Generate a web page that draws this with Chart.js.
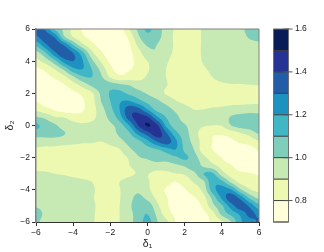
<!DOCTYPE html>
<html lang="en">
<head>
<meta charset="UTF-8">
<title>Contour</title>
<script src="https://cdn.jsdelivr.net/npm/chart.js"></script>
<style>
    html, body { margin: 0; padding: 0; background: #fff; }
    canvas { display: block; }
</style>
</head>
<body>
<canvas id="grafico" width="324" height="252"></canvas>
<script>
const d1 = [-6,-5.5,-5,-4.5,-4,-3.5,-3,-2.5,-2,-1.5,-1,-0.5,0,0.5,1,1.5,2,2.5,3,3.5,4,4.5,5,5.5,6];
const d2 = [6,5.5,5,4.5,4,3.5,3,2.5,2,1.5,1,0.5,0,-0.5,-1,-1.5,-2,-2.5,-3,-3.5,-4,-4.5,-5,-5.5,-6];

// values, one row per d2 (top to bottom)
const z = [
[1.35,1.29,1.09,.98,.87,.79,.74,.72,.72,.75,.89,1.02,1.12,1.05,.96,.89,.86,.87,.91,.93,.94,.95,.98,1.03,1.06],
[1.28,1.36,1.29,1.02,.90,.82,.77,.73,.72,.74,.82,.98,1.07,1.03,.96,.88,.85,.86,.91,.93,.94,.95,.97,1.01,1.03],
[1.12,1.27,1.38,1.29,1.10,.93,.83,.76,.72,.73,.785,.92,1.01,1.0,.94,.89,.86,.87,.91,.94,.95,.95,.96,.97,.98],
[.96,1.08,1.27,1.38,1.30,1.14,.93,.82,.74,.73,.77,.86,.96,.99,.93,.885,.86,.87,.91,.94,.95,.95,.96,.96,.97],
[.87,.94,1.06,1.24,1.30,1.21,1.03,.89,.78,.73,.77,.83,.90,.94,.91,.87,.86,.87,.905,.93,.95,.95,.96,.96,.96],
[.78,.82,.90,1.02,1.17,1.20,1.10,.97,.83,.76,.79,.83,.89,.93,.90,.86,.85,.86,.89,.915,.94,.95,.95,.96,.96],
[.73,.77,.81,.87,.98,1.08,1.10,1.02,.89,.83,.85,.87,.91,.93,.90,.87,.86,.865,.875,.90,.93,.95,.95,.96,.96],
[.72,.74,.76,.79,.85,.93,1.02,1.07,1.06,1.03,1.0,.95,.93,.93,.905,.87,.85,.85,.86,.87,.88,.89,.89,.895,.90],
[.74,.75,.75,.76,.78,.82,.88,1.02,1.11,1.13,1.08,1.04,.99,.95,.89,.86,.84,.83,.83,.84,.85,.86,.86,.86,.87],
[.80,.76,.74,.74,.75,.79,.86,1.0,1.10,1.19,1.21,1.14,1.07,1.02,.97,.91,.88,.87,.86,.86,.86,.87,.87,.875,.88],
[.875,.83,.79,.75,.75,.79,.85,.96,1.07,1.2,1.36,1.34,1.2,1.07,1.04,.98,.93,.90,.90,.91,.92,.94,.95,.96,.96],
[1.01,.98,.91,.90,.86,.84,.87,.95,1.03,1.15,1.35,1.44,1.42,1.23,1.1,1.03,.96,.93,.93,.93,.95,1.01,1.03,1.04,1.04],
[1.12,1.06,1.02,.95,.93,.92,.93,.96,.98,1.05,1.19,1.40,1.51,1.43,1.18,1.05,1.01,.95,.91,.90,.905,1.0,1.04,1.06,1.10],
[1.05,1.05,1.05,1.01,.95,.94,.94,.95,.96,1.02,1.08,1.23,1.35,1.46,1.32,1.14,1.04,.95,.84,.81,.81,.84,.89,.93,1.01],
[.94,.94,.94,.93,.92,.91,.91,.90,.925,.97,1.03,1.07,1.17,1.30,1.36,1.23,1.06,.97,.86,.80,.78,.78,.82,.84,.89],
[.89,.88,.88,.87,.865,.86,.85,.85,.87,.895,.98,1.03,1.06,1.09,1.15,1.2,1.08,1.0,.85,.80,.75,.73,.73,.76,.81],
[.86,.85,.85,.84,.84,.83,.83,.83,.84,.86,.91,.99,1.01,1.04,1.04,1.08,1.12,1.05,.93,.86,.80,.72,.72,.73,.78],
[.88,.87,.87,.87,.865,.86,.85,.84,.84,.85,.895,.94,.96,.96,.96,.98,1.01,1.07,.98,.93,.86,.81,.75,.73,.74],
[.91,.91,.90,.895,.885,.87,.86,.845,.835,.84,.87,.91,.905,.87,.875,.895,.91,.97,1.10,1.12,.95,.85,.82,.81,.79],
[.93,.93,.93,.925,.92,.915,.90,.87,.85,.90,.95,.96,.91,.87,.84,.80,.85,.91,.975,1.17,1.13,.975,.87,.85,.82],
[.94,.94,.94,.94,.935,.93,.91,.88,.86,.895,.95,.98,.92,.85,.79,.74,.79,.85,.93,1.15,1.25,1.21,1.02,.91,.87],
[.96,.96,.96,.95,.95,.945,.91,.87,.85,.895,.96,1.03,.97,.88,.81,.75,.76,.79,.86,1.03,1.22,1.36,1.27,1.08,.98],
[.99,.97,.97,.965,.96,.95,.92,.87,.85,.90,.97,1.08,1.07,.93,.82,.76,.73,.75,.82,.97,1.08,1.25,1.36,1.28,1.13],
[1.05,.98,.98,.97,.965,.95,.92,.86,.85,.90,.96,1.05,1.10,.98,.85,.78,.73,.73,.77,.86,1.03,1.13,1.22,1.33,1.27],
[1.02,.96,.97,.97,.96,.95,.915,.86,.85,.90,.97,1.04,1.14,1.01,.93,.80,.74,.72,.75,.82,.88,1.0,1.18,1.26,1.31]
];

const levels = [0.7,0.8,0.9,1.0,1.1,1.2,1.3,1.4,1.5,1.6];
const colores = ['#FFFFD9','#EDF8B1','#C7E9B4','#7FCDBB','#41B6C4','#1D91C0','#225EA8','#253494','#081D58'];
const colorTicks = [0.8,1.0,1.2,1.4,1.6];

const fonte = { family: '"Liberation Sans", "DejaVu Sans", sans-serif', size: 8.5 };
const corTexto = '#222';

// keep only the part of a cell that is above the level
function recorta(cell, nivel) {
    const out = [];
    for (let i = 0; i < cell.length; i++) {
        const a = cell[i], b = cell[(i + 1) % cell.length];
        if (a.v >= nivel) out.push(a);
        if ((a.v >= nivel) !== (b.v >= nivel)) {
            const t = (nivel - a.v) / (b.v - a.v);
            out.push({ x: a.x + t * (b.x - a.x), y: a.y + t * (b.y - a.y), v: nivel });
        }
    }
    return out;
}

// smooth lookup between the grid nodes, only used to trace the contour lines
function cr(p0, p1, p2, p3, t) {
    return p1 + 0.5 * t * (p2 - p0 + t * (2 * p0 - 5 * p1 + 4 * p2 - p3 + t * (3 * (p1 - p2) + p3 - p0)));
}
function valor(gi, gj) {
    const n = d1.length - 1;
    const i = Math.min(Math.floor(gi), n - 1), j = Math.min(Math.floor(gj), n - 1);
    const lim = k => Math.max(0, Math.min(n, k));
    const linhas = [-1, 0, 1, 2].map(dj => {
        const r = z[lim(j + dj)];
        return cr(r[lim(i - 1)], r[i], r[i + 1], r[lim(i + 2)], gi - i);
    });
    return cr(linhas[0], linhas[1], linhas[2], linhas[3], gj - j);
}

const passo = 4;
const contorno = {
    id: 'contorno',
    beforeDraw(chart) {
        const c = chart.ctx, sx = chart.scales.x, sy = chart.scales.y;
        const n = (d1.length - 1) * passo;
        const gx = k => d1[0] + (d1[1] - d1[0]) * k / passo;
        const gy = k => d2[0] + (d2[1] - d2[0]) * k / passo;
        const fina = [];
        for (let j = 0; j <= n; j++) {
            fina.push([]);
            for (let i = 0; i <= n; i++) fina[j].push(valor(i / passo, j / passo));
        }
        colores.forEach((cor, k) => {
            c.fillStyle = cor;
            c.beginPath();
            for (let j = 0; j < n; j++) {
                for (let i = 0; i < n; i++) {
                    const cell = [
                        { x: gx(i), y: gy(j), v: fina[j][i] },
                        { x: gx(i + 1), y: gy(j), v: fina[j][i + 1] },
                        { x: gx(i + 1), y: gy(j + 1), v: fina[j + 1][i + 1] },
                        { x: gx(i), y: gy(j + 1), v: fina[j + 1][i] }
                    ];
                    const pol = k === 0 ? cell : recorta(cell, levels[k]);
                    if (pol.length < 3) continue;
                    pol.forEach((p, m) => {
                        const px = sx.getPixelForValue(p.x), py = sy.getPixelForValue(p.y);
                        if (m === 0) c.moveTo(px, py); else c.lineTo(px, py);
                    });
                    c.closePath();
                }
            }
            c.fill();
        });
    },
    afterDraw(chart) {
        const c = chart.ctx, a = chart.chartArea, sc = chart.scales.c;
        // rest of the frame
        c.strokeStyle = '#808080';
        c.lineWidth = 1;
        c.beginPath();
        c.moveTo(a.left, a.top);
        c.lineTo(a.right, a.top);
        c.lineTo(a.right, a.bottom);
        c.stroke();
        // colour key
        const x0 = 273.5, x1 = 288.5;
        colores.forEach((cor, k) => {
            const top = sc.getPixelForValue(levels[k + 1]), bot = sc.getPixelForValue(levels[k]);
            c.fillStyle = cor;
            c.fillRect(x0, top, x1 - x0, bot - top);
            c.strokeStyle = '#3c3c3c';
            c.beginPath();
            c.moveTo(x0, bot);
            c.lineTo(x1, bot);
            c.stroke();
        });
        c.strokeStyle = '#707070';
        c.strokeRect(x0, sc.top, x1 - x0, sc.bottom - sc.top);
        c.strokeStyle = '#555';
        colorTicks.forEach(v => {
            const y = sc.getPixelForValue(v);
            c.beginPath();
            c.moveTo(x1 - 5, y);
            c.lineTo(x1 + 4, y);
            c.stroke();
        });
    }
};

const pontos = [];
d2.forEach((y, j) => d1.forEach((x, i) => pontos.push({ x: x, y: y, v: z[j][i] })));

const menos = v => String(v).replace('-', '\u2212');

new Chart(document.getElementById('grafico'), {
    type: 'scatter',
    data: { datasets: [{ data: pontos, pointRadius: 0, pointHoverRadius: 0 }] },
    options: {
        responsive: false,
        animation: false,
        layout: { padding: { top: 29, left: 0, right: 0, bottom: 0 } },
        plugins: { legend: { display: false }, tooltip: { enabled: false } },
        scales: {
            x: {
                type: 'linear', min: -6, max: 6,
                afterFit: s => { s.height = 30; s.paddingLeft = 0; s.paddingRight = 0; },
                grid: { drawOnChartArea: false, tickLength: 4, tickColor: '#333', lineWidth: 1 },
                border: { color: '#333', width: 1 },
                ticks: { stepSize: 2, padding: 2, maxRotation: 0, color: corTexto, font: fonte, callback: menos },
                title: { display: true, text: 'δ₁', color: corTexto, padding: { top: 0, bottom: 2 },
                    font: { family: fonte.family, size: 10.5 } }
            },
            y: {
                type: 'linear', min: -6, max: 6,
                afterFit: s => { s.width = 36; s.paddingTop = 0; s.paddingBottom = 0; },
                grid: { drawOnChartArea: false, tickLength: 4, tickColor: '#333', lineWidth: 1 },
                border: { color: '#808080', width: 1.5 },
                ticks: { stepSize: 2, padding: 2, color: corTexto, font: fonte, callback: menos },
                title: { display: true, text: 'δ₂', color: corTexto, padding: { top: 4, bottom: 0 },
                    font: { family: fonte.family, size: 10.5 } }
            },
            c: {
                type: 'linear', position: 'right', min: 0.7, max: 1.6,
                afterFit: s => { s.width = 65; s.paddingTop = 0; s.paddingBottom = 0; },
                afterBuildTicks: s => { s.ticks = colorTicks.map(v => ({ value: v })); },
                grid: { display: false, drawTicks: false },
                border: { display: false },
                ticks: { padding: 36, color: corTexto, font: fonte, callback: v => v.toFixed(1) }
            }
        }
    },
    plugins: [contorno]
});
</script>
</body>
</html>
